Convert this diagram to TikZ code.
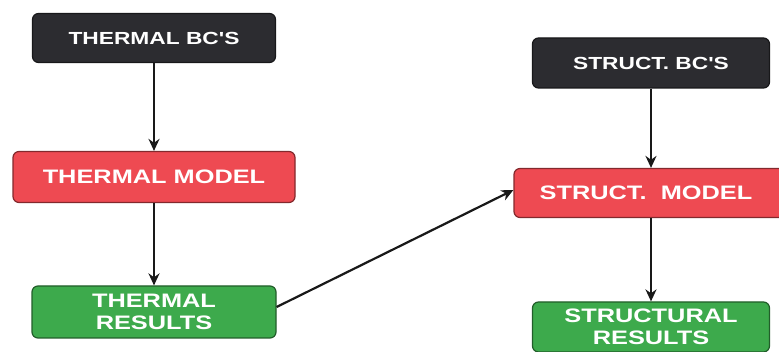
\documentclass[tikz,border=0pt]{standalone}
\usepackage{fontspec}
\newfontfamily\labfont[FakeStretch=1.3]{Liberation Sans}
\usetikzlibrary{arrows.meta}
\definecolor{bcdark}{HTML}{2C2C30}
\definecolor{modred}{HTML}{EE4A52}
\definecolor{resgreen}{HTML}{3DAA4C}
\begin{document}
\begin{tikzpicture}[x=1pt,y=-1pt,
  box/.style={rounded corners=6pt, fill=#1, draw=#1!55!black, line width=1.2pt,
    text=white, font=\labfont\bfseries\fontsize{19.5}{22}\selectfont,
    align=center, inner sep=0pt},
  bcfont/.style={font=\labfont\bfseries\fontsize{17.5}{21}\selectfont},
  conn/.style={line width=2.2pt, draw=black!90, -{Stealth[length=12pt,width=11pt]}}
]
\useasboundingbox (0,0) rectangle (779,352);
\clip (0,0) rectangle (779,352);
\fill[white] (0,0) rectangle (779,352);

\node[box=bcdark, bcfont, minimum width=243pt, minimum height=49pt] (tbc) at (154,38) {THERMAL BC'S};
\node[box=modred, minimum width=282pt, minimum height=51pt] (tm) at (154,177) {THERMAL MODEL};
\node[box=resgreen, minimum width=244pt, minimum height=52pt] (tr) at (154,312) {THERMAL\\RESULTS};

\node[box=bcdark, bcfont, minimum width=237pt, minimum height=50pt] (sbc) at (651,63) {STRUCT. BC'S};
\node[box=modred, minimum width=276pt, minimum height=49pt] (sm) at (652,193) {STRUCT.\ \ MODEL\hspace*{12pt}};
\node[box=resgreen, minimum width=237pt, minimum height=50pt] (sr) at (651,327) {STRUCTURAL\\RESULTS};

\draw[conn] (tbc) -- (tm);
\draw[conn] (tm) -- (tr);
\draw[conn] (sbc.south -| 651,0) -- (sm.north -| 651,0);
\draw[conn] (sm.south -| 651,0) -- (sr.north -| 651,0);
\draw[conn] ([yshift=5pt]tr.east) -- ([yshift=3pt]sm.west);
\end{tikzpicture}
\end{document}
